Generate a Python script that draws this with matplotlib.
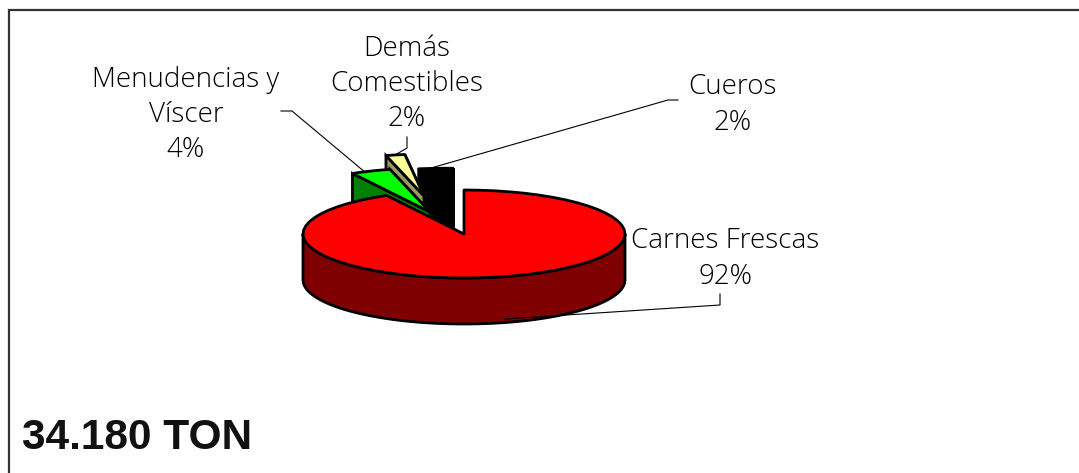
import numpy as np
import matplotlib
matplotlib.use("Agg")
import matplotlib.pyplot as plt

# Datos
labels = ["Carnes Frescas", "Menudencias y\nVíscer", "Demás\nComestibles", "Cueros"]
shares = [92, 4, 2, 2]
total_text = "34.180 TON"

# Colores de cada porción
top_colors = ["#FF0000", "#00FF00", "#FFFF99", "#000000"]
wall_colors = ["#7F0000", "#008000", "#999966", "#000000"]

# Geometría del pastel, en píxeles
W, H = 1079, 473
CX, CY = 464, 234
RX, RY = 161, 44
DEPTH = 46
slice_shift = [(0, 0), (-34, -22), (-40, -38), (-11, 9)]
slice_radius = [1.0, 1.0, 0.95, 1.7]

# Posición de textos y líneas guía
label_pos = [(725, 259), (186, 115), (407, 84), (733, 105)]
leaders = [
    [(505, 319), (720, 305), (720, 294)],
    [(366, 173), (292, 111), (281, 111)],
    [(395, 155), (407, 148), (407, 137)],
    [(431, 168), (668, 100), (678, 100)],
]


def wedge(start, end, radius, shift):
    t = np.radians(np.linspace(start, end, 60))
    x0, y0 = CX + shift[0], CY + shift[1]
    xs = x0 + radius * RX * np.cos(t)
    ys = y0 - radius * RY * np.sin(t)
    return x0, y0, xs, ys


fig = plt.figure(figsize=(W / 100, H / 100), dpi=100)
ax = fig.add_axes([0, 0, 1, 1])
ax.set_xlim(0, W)
ax.set_ylim(H, 0)
ax.axis("off")

# Marco: solo arriba y a la izquierda
ax.plot([8.5, 8.5, W], [H, 10, 10], color="#333333", lw=1.6, solid_joinstyle="miter")

# Angulos en sentido horario desde las 12
ends = 90 - 360 * np.cumsum(shares) / sum(shares)
starts = np.concatenate([[90], ends[:-1]])

# Se dibuja de atrás hacia adelante: la porción roja queda al final
for i in [3, 2, 1, 0]:
    x0, y0, xs, ys = wedge(starts[i], ends[i], slice_radius[i], slice_shift[i])
    if i == 0:
        # pared frontal de la porción grande
        _, _, fx, fy = wedge(180, 360, 1.0, (0, 0))
        ax.fill(np.r_[fx, fx[::-1]], np.r_[fy, fy[::-1] + DEPTH],
                fc=wall_colors[i], ec="black", lw=2.0, joinstyle="round")
    else:
        # pared: la cara superior extruida hacia abajo
        ax.fill(np.r_[xs[-1], x0, x0, xs[-1]], np.r_[ys[-1], y0, y0 + DEPTH, ys[-1] + DEPTH],
                fc=wall_colors[i], ec="black", lw=2.0)
        ax.fill(np.r_[xs[0], x0, x0, xs[0]], np.r_[ys[0], y0, y0 + DEPTH, ys[0] + DEPTH],
                fc=wall_colors[i], ec="black", lw=2.0)
    ax.fill(np.r_[x0, xs], np.r_[y0, ys], fc=top_colors[i], ec="black", lw=2.0, joinstyle="round")

# Líneas guía
for pts in leaders:
    px, py = zip(*pts)
    ax.plot(px, py, color="black", lw=0.8)

# Etiquetas
for name, share, pos in zip(labels, shares, label_pos):
    ax.text(pos[0], pos[1], f"{name}\n{share}%", ha="center", va="center", fontsize=20,
            family="Open Sans", fontweight="light", color="black", linespacing=1.34)

ax.text(22, 438, total_text, ha="left", va="center", fontsize=30.5, fontweight="bold",
        family="Liberation Sans", color="#111111")

fig.savefig("out.png", dpi=100)
plt.close(fig)
